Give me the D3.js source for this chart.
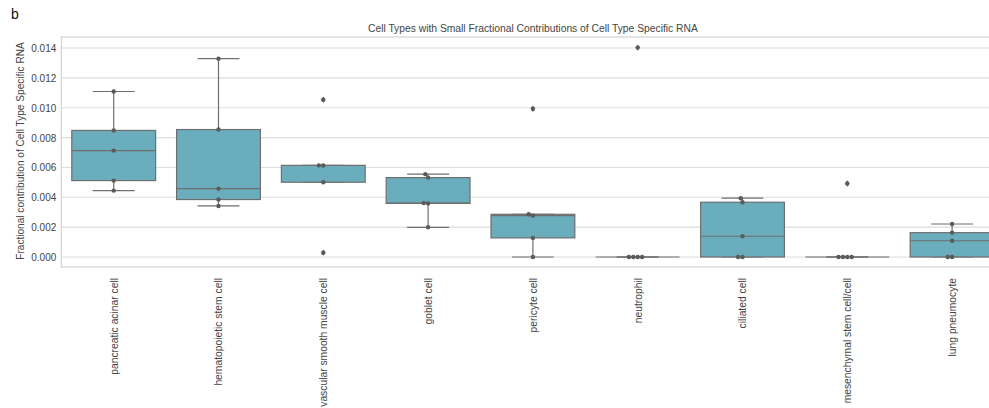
<!DOCTYPE html>
<html>
<head>
<meta charset="utf-8">
<script src="https://cdn.jsdelivr.net/npm/d3@7"></script>
<style>
  body { margin: 0; background: #fff; }
  svg { display: block; font-family: "Liberation Sans", Arial, sans-serif; }
</style>
</head>
<body>
<svg id="chart" width="989" height="408"></svg>
<script>
// cell types on the x axis
var categories = [
  "pancreatic acinar cell",
  "hematopoietic stem cell",
  "vascular smooth muscle cell",
  "goblet cell",
  "pericyte cell",
  "neutrophil",
  "ciliated cell",
  "mesenchymal stem cell/cell",
  "lung pneumocyte"
];

// per-sample fractional contributions
var pancreaticAcinar = [0.00445, 0.00512, 0.00713, 0.00848, 0.01109];
var hematopoieticStem = [0.00342, 0.00385, 0.00458, 0.00854, 0.01329];
var vascularSmoothMuscle = [0.00029, 0.00501, 0.00613, 0.00614, 0.01054];
var goblet = [0.00199, 0.00359, 0.00361, 0.00532, 0.00555];
var pericyte = [0.0, 0.00128, 0.00277, 0.00286, 0.00993];
var neutrophil = [0.0, 0.0, 0.0, 0.0, 0.01403];
var ciliated = [0.0, 0.0, 0.00139, 0.00367, 0.00394];
var mesenchymalStem = [0.0, 0.0, 0.0, 0.0, 0.00492];
var lungPneumocyte = [0.0, 0.0, 0.00109, 0.00163, 0.00221];

var seriesValues = [pancreaticAcinar, hematopoieticStem, vascularSmoothMuscle, goblet,
  pericyte, neutrophil, ciliated, mesenchymalStem, lungPneumocyte];

var yTicks = [0, 0.002, 0.004, 0.006, 0.008, 0.010, 0.012, 0.014];
var yDomain = [-0.00067, 0.01474];

var title = "Cell Types with Small Fractional Contributions of Cell Type Specific RNA";
var yLabel = "Fractional contribution of Cell Type Specific RNA";

var boxColor = "#6aadbd";
var lineColor = "#6f6f6f";
var dotColor = "#5a5a5a";

var svg = d3.select("#chart");

var mLeft = 61.3, mRight = 1004.5, mTop = 37, mBottom = 267;

var x = d3.scaleBand()
  .domain(categories)
  .range([mLeft, mRight])
  .paddingInner(0)
  .paddingOuter(0);

var y = d3.scaleLinear()
  .domain(yDomain)
  .range([mBottom, mTop]);

// grid
svg.append("g")
  .selectAll("line")
  .data(yTicks)
  .join("line")
  .attr("x1", mLeft)
  .attr("x2", mRight)
  .attr("y1", d => y(d))
  .attr("y2", d => y(d))
  .attr("stroke", "#dddddd")
  .attr("stroke-width", 1.1);

// frame
svg.append("rect")
  .attr("x", mLeft)
  .attr("y", mTop)
  .attr("width", mRight - mLeft)
  .attr("height", mBottom - mTop)
  .attr("fill", "none")
  .attr("stroke", "#cfcfcf")
  .attr("stroke-width", 1.1);

// y axis
var yAxis = d3.axisLeft(y)
  .tickValues(yTicks)
  .tickFormat(d3.format(".3f"))
  .tickSize(0)
  .tickPadding(5);

var yg = svg.append("g")
  .attr("transform", "translate(" + mLeft + ",0)")
  .call(yAxis);
yg.select(".domain").remove();
yg.selectAll("text")
  .attr("fill", "#444")
  .style("font-size", "10px")
  .attr("dy", "0.34em");

// x axis
var xAxis = d3.axisBottom(x).tickSize(0).tickPadding(0);
var xg = svg.append("g")
  .attr("transform", "translate(0," + mBottom + ")")
  .call(xAxis);
xg.select(".domain").remove();
xg.selectAll("text")
  .attr("fill", "#444")
  .style("font-size", "10.3px")
  .attr("text-anchor", "end")
  .attr("dy", null)
  .attr("y", 0)
  .attr("transform", "translate(3.8,11) rotate(-90)");

// stats like seaborn / matplotlib (linear percentiles, 1.5 IQR whiskers)
function stats(vals) {
  var s = vals.slice().sort(d3.ascending);
  var q1 = d3.quantile(s, 0.25), med = d3.quantile(s, 0.5), q3 = d3.quantile(s, 0.75);
  var iqr = q3 - q1;
  var lo = q1 - 1.5 * iqr, hi = q3 + 1.5 * iqr;
  var inside = s.filter(v => v >= lo && v <= hi);
  return {
    q1: q1, med: med, q3: q3,
    wLo: d3.min(inside), wHi: d3.max(inside),
    out: s.filter(v => v < lo || v > hi)
  };
}

var bw = x.bandwidth() * 0.8;

var boxes = svg.append("g")
  .selectAll("g")
  .data(categories.map((c, i) => ({ cat: c, st: stats(seriesValues[i]) })))
  .join("g")
  .attr("transform", d => "translate(" + (x(d.cat) + x.bandwidth() / 2) + ",0)");

// whiskers
boxes.append("line")
  .attr("x1", 0).attr("x2", 0)
  .attr("y1", d => y(d.st.q1)).attr("y2", d => y(d.st.wLo))
  .attr("stroke", lineColor).attr("stroke-width", 1.2);
boxes.append("line")
  .attr("x1", 0).attr("x2", 0)
  .attr("y1", d => y(d.st.q3)).attr("y2", d => y(d.st.wHi))
  .attr("stroke", lineColor).attr("stroke-width", 1.2);
// caps
boxes.append("line")
  .attr("x1", -bw / 4).attr("x2", bw / 4)
  .attr("y1", d => y(d.st.wLo)).attr("y2", d => y(d.st.wLo))
  .attr("stroke", lineColor).attr("stroke-width", 1.2);
boxes.append("line")
  .attr("x1", -bw / 4).attr("x2", bw / 4)
  .attr("y1", d => y(d.st.wHi)).attr("y2", d => y(d.st.wHi))
  .attr("stroke", lineColor).attr("stroke-width", 1.2);
// box
boxes.append("rect")
  .attr("x", -bw / 2)
  .attr("width", bw)
  .attr("y", d => y(d.st.q3))
  .attr("height", d => y(d.st.q1) - y(d.st.q3))
  .attr("fill", boxColor)
  .attr("stroke", lineColor)
  .attr("stroke-width", 1.2);
// median
boxes.append("line")
  .attr("x1", -bw / 2).attr("x2", bw / 2)
  .attr("y1", d => y(d.st.med)).attr("y2", d => y(d.st.med))
  .attr("stroke", lineColor).attr("stroke-width", 1.2);
// outliers (thin diamonds)
boxes.selectAll("path.flier")
  .data(d => d.st.out)
  .join("path")
  .attr("class", "flier")
  .attr("d", v => {
    var cy = y(v);
    return "M0," + (cy - 3.2) + "L2," + cy + "L0," + (cy + 3.2) + "L-2," + cy + "Z";
  })
  .attr("fill", dotColor);

// swarm points
var r = 2.2, dd = 2 * r;
function swarm(vals) {
  var s = vals.slice().sort(d3.ascending);
  var placed = [];
  s.forEach(v => {
    var py = y(v);
    var cands = [0];
    placed.forEach(p => {
      var dy = Math.abs(p.y - py);
      if (dy < dd) {
        var dx = Math.sqrt(dd * dd - dy * dy);
        cands.push(p.x - dx, p.x + dx);
      }
    });
    cands.sort((a, b) => (Math.abs(a) - Math.abs(b)) || (a - b));
    var pick = 0;
    for (var k = 0; k < cands.length; k++) {
      var cx = cands[k];
      var ok = placed.every(p => Math.hypot(p.x - cx, p.y - py) >= dd - 0.01);
      if (ok) { pick = cx; break; }
    }
    placed.push({ x: pick, y: py });
  });
  return placed;
}

boxes.selectAll("circle")
  .data((d, i) => swarm(seriesValues[i]))
  .join("circle")
  .attr("cx", p => p.x)
  .attr("cy", p => p.y)
  .attr("r", r)
  .attr("fill", dotColor);

// title and labels
svg.append("text")
  .attr("x", (mLeft + mRight) / 2)
  .attr("y", 32)
  .attr("text-anchor", "middle")
  .attr("fill", "#444")
  .style("font-size", "10.3px")
  .text(title);

svg.append("text")
  .attr("transform", "translate(24," + ((mTop + mBottom) / 2 - 1) + ") rotate(-90)")
  .attr("text-anchor", "middle")
  .attr("fill", "#444")
  .style("font-size", "10.1px")
  .text(yLabel);

svg.append("text")
  .attr("x", 11)
  .attr("y", 19)
  .attr("fill", "#111")
  .style("font-size", "14px")
  .text("b");

svg.append("text")
  .attr("x", 11)
  .attr("y", 416)
  .attr("fill", "#111")
  .style("font-size", "14px")
  .text("c");
</script>
</body>
</html>
